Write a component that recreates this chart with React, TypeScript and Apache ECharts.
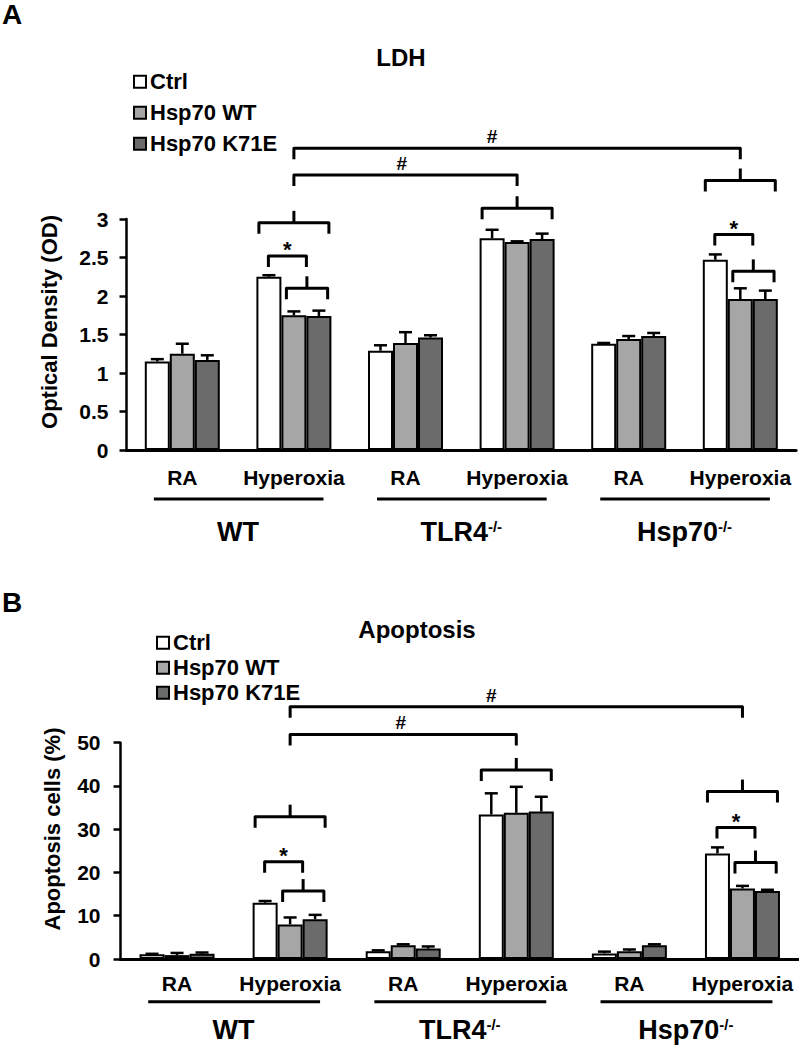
import React, { useEffect, useRef } from "react";
import * as echarts from "echarts";

// ---------- data ----------
const conditions = ["RA", "Hyperoxia"];
const genotypes = ["WT", "TLR4", "Hsp70"];
const genotypeSup = ["", "-/-", "-/-"];
const seriesNames = ["Ctrl", "Hsp70 WT", "Hsp70 K71E"];
const categories = genotypes.flatMap((g) => conditions.map((c) => `${g}|${c}`));

// Panel A: LDH (optical density), order: WT RA, WT Hyp, TLR4 RA, TLR4 Hyp, Hsp70 RA, Hsp70 Hyp
const ldhCtrl = [1.15, 2.25, 1.29, 2.75, 1.38, 2.47];
const ldhHspWT = [1.25, 1.75, 1.39, 2.7, 1.44, 1.96];
const ldhK71E = [1.17, 1.74, 1.46, 2.74, 1.48, 1.96];
const ldhCtrlErr = [0.03, 0.02, 0.07, 0.11, 0.01, 0.07];
const ldhHspWTErr = [0.13, 0.05, 0.14, 0.01, 0.04, 0.14];
const ldhK71EErr = [0.06, 0.07, 0.03, 0.07, 0.04, 0.11];
const ldhTicks = { min: 0, max: 3, interval: 0.5 };

// Panel B: apoptosis (%)
const apoCtrl = [1.1, 13.0, 1.8, 33.4, 1.3, 24.4];
const apoHspWT = [0.9, 8.0, 3.2, 33.8, 1.8, 16.3];
const apoK71E = [1.2, 9.2, 2.4, 34.1, 3.2, 15.7];
const apoCtrlErr = [0.1, 0.4, 0.2, 4.9, 0.4, 1.4];
const apoHspWTErr = [0.5, 1.6, 0.2, 6.0, 0.4, 0.6];
const apoK71EErr = [0.3, 1.0, 0.5, 3.4, 0.2, 0.3];
const apoTicks = { min: 0, max: 50, interval: 10 };

// significance brackets: category index c, offset o in bar widths, y in data units
const ldhBrackets = [
  { kind: "bar", c1: 1, o1: 0, c2: 5, o2: 0, y: 3.92, label: "#", lc: 3, lo: -1 },
  { kind: "bar", c1: 1, o1: 0, c2: 3, o2: 0, y: 3.57, label: "#", lc: 2, lo: -0.15 },
  { kind: "brace", c1: 1, o1: -1.4, c2: 1, o2: 1.4, tip: 0, y: 2.95 },
  { kind: "bar", c1: 1, o1: -1.02, c2: 1, o2: 0.5, y: 2.52, label: "*", lc: 1, lo: -0.26 },
  { kind: "brace", c1: 1, o1: -0.3, c2: 1, o2: 1.35, tip: 0.52, y: 2.1 },
  { kind: "brace", c1: 3, o1: -1.4, c2: 3, o2: 1.4, tip: 0, y: 3.14 },
  { kind: "brace", c1: 5, o1: -1.4, c2: 5, o2: 1.4, tip: 0, y: 3.5 },
  { kind: "bar", c1: 5, o1: -1.02, c2: 5, o2: 0.5, y: 2.8, label: "*", lc: 5, lo: -0.26 },
  { kind: "brace", c1: 5, o1: -0.3, c2: 5, o2: 1.35, tip: 0.52, y: 2.32 },
];
const apoBrackets = [
  { kind: "bar", c1: 1, o1: 0, c2: 5, o2: 0, y: 58.3, label: "#", lc: 3, lo: -1 },
  { kind: "bar", c1: 1, o1: 0, c2: 3, o2: 0, y: 51.9, label: "#", lc: 2, lo: -0.1 },
  { kind: "brace", c1: 1, o1: -1.4, c2: 1, o2: 1.4, tip: 0, y: 32.9 },
  { kind: "bar", c1: 1, o1: -1.02, c2: 1, o2: 0.5, y: 22.5, label: "*", lc: 1, lo: -0.26 },
  { kind: "brace", c1: 1, o1: -0.3, c2: 1, o2: 1.35, tip: 0.52, y: 15.7 },
  { kind: "brace", c1: 3, o1: -1.4, c2: 3, o2: 1.4, tip: 0, y: 43.7 },
  { kind: "brace", c1: 5, o1: -1.4, c2: 5, o2: 1.4, tip: 0, y: 38.7 },
  { kind: "bar", c1: 5, o1: -1.02, c2: 5, o2: 0.5, y: 30.4, label: "*", lc: 5, lo: -0.26 },
  { kind: "brace", c1: 5, o1: -0.3, c2: 5, o2: 1.35, tip: 0.52, y: 22.3 },
];

// ---------- styling / layout ----------
const FONT = '"Liberation Sans", Arial, Helvetica, sans-serif';
const barColors = ["#ffffff", "#a6a6a6", "#6b6b6b"];
const DROP = 11;
const TIP = 12;

const panels = [
  {
    letter: "A", letterY: 14.5,
    title: "LDH", titleX: 401, titleY: 57,
    yName: "Optical Density (OD)", yNameX: 49, yNameY: 322,
    grid: { left: 126.5, top: 219, width: 669.6, height: 231 },
    ticks: ldhTicks,
    values: [ldhCtrl, ldhHspWT, ldhK71E],
    errors: [ldhCtrlErr, ldhHspWTErr, ldhK71EErr],
    brackets: ldhBrackets,
    yLabelMargin: 18, xLabelMargin: 17,
    underlineOff: 49, genoOff: 82,
    legend: { left: 133, top: 70.7, itemGap: 9 },
  },
  {
    letter: "B", letterY: 602,
    title: "Apoptosis", titleX: 417, titleY: 629,
    yName: "Apoptosis cells (%)", yNameX: 52, yNameY: 829,
    grid: { left: 120.5, top: 742.7, width: 678.5, height: 216.3 },
    ticks: apoTicks,
    values: [apoCtrl, apoHspWT, apoK71E],
    errors: [apoCtrlErr, apoHspWTErr, apoK71EErr],
    brackets: apoBrackets,
    yLabelMargin: 20, xLabelMargin: 13.5,
    underlineOff: 42.7, genoOff: 71,
    legend: { left: 156, top: 631.7, itemGap: 3 },
  },
];
const BAR_PX = 25;

export default function App() {
  const ref = useRef<HTMLDivElement>(null);

  useEffect(() => {
    if (!ref.current) return;
    const chart = echarts.init(ref.current, null, { renderer: "svg" });

    const series: any[] = [];
    panels.forEach((p, pi) => {
      const bandPx = p.grid.width / categories.length;
      const barFrac = BAR_PX / bandPx;
      seriesNames.forEach((name, si) => {
        series.push({
          type: "bar",
          name,
          xAxisIndex: pi,
          yAxisIndex: pi,
          data: p.values[si],
          barWidth: `${barFrac * 100}%`,
          barGap: "0%",
          itemStyle: { color: barColors[si], borderColor: "#000", borderWidth: 2 },
          emphasis: { disabled: true },
          silent: true,
          z: 2,
        });
      });
      // error bars
      const errData: number[][] = [];
      seriesNames.forEach((_, si) => {
        p.values[si].forEach((v, ci) => {
          errData.push([ci, v + p.errors[si][ci], si, v]);
        });
      });
      series.push({
        type: "custom",
        xAxisIndex: pi,
        yAxisIndex: pi,
        silent: true,
        clip: false,
        z: 3,
        encode: { x: 0, y: 1 },
        data: errData,
        renderItem: (params: any, api: any) => {
          const c = api.value(0);
          const top = api.value(1);
          const s = api.value(2);
          const v = api.value(3);
          const bw = api.size([1, 0])[0];
          const pt = api.coord([c, top]);
          const pb = api.coord([c, v]);
          const x = pt[0] + (s - 1) * bw * barFrac;
          const st = { stroke: "#000", lineWidth: 2.5 };
          return {
            type: "group",
            children: [
              { type: "line", shape: { x1: x, y1: pb[1], x2: x, y2: pt[1] }, style: st },
              { type: "line", shape: { x1: x - 6.5, y1: pt[1], x2: x + 6.5, y2: pt[1] }, style: st },
            ],
          };
        },
      });
      // brackets
      series.push({
        type: "custom",
        xAxisIndex: pi,
        yAxisIndex: pi,
        silent: true,
        clip: false,
        z: 4,
        data: p.brackets.map((b) => [b.c1, b.y]),
        renderItem: (params: any, api: any) => {
          const b: any = p.brackets[params.dataIndex];
          const bw = api.size([1, 0])[0];
          const barPx = bw * barFrac;
          const X = (c: number, o: number) => api.coord([c, 0])[0] + o * barPx;
          const y = api.coord([0, b.y])[1];
          const x1 = X(b.c1, b.o1);
          const x2 = X(b.c2, b.o2);
          const st = { stroke: "#000", lineWidth: 3, fill: "none", lineJoin: "round", lineCap: "butt" };
          const children: any[] = [
            {
              type: "polyline",
              shape: { points: [[x1, y + DROP], [x1, y], [x2, y], [x2, y + DROP]] },
              style: st,
            },
          ];
          if (b.kind === "brace") {
            const xt = X(b.c1, b.tip);
            children.push({ type: "line", shape: { x1: xt, y1: y, x2: xt, y2: y - TIP }, style: st });
          }
          if (b.label) {
            const isHash = b.label === "#";
            children.push({
              type: "text",
              style: {
                text: `{t|${b.label}}`,
                x: X(b.lc, b.lo),
                y: y - (isHash ? 11.5 : 6),
                align: "center",
                verticalAlign: "middle",
                rich: {
                  t: {
                    fontSize: isHash ? 19 : 22,
                    fontWeight: "bold",
                    fontFamily: FONT,
                    fill: "#000",
                  },
                },
              },
            });
          }
          return { type: "group", children };
        },
      });
      // genotype labels and underlines
      series.push({
        type: "custom",
        xAxisIndex: pi,
        yAxisIndex: pi,
        silent: true,
        clip: false,
        z: 4,
        data: genotypes.map((_, gi) => [gi * conditions.length, 0]),
        renderItem: (params: any, api: any) => {
          const gi = params.dataIndex;
          const bw = api.size([1, 0])[0];
          const base = api.coord([gi * conditions.length, 0]);
          const xc = base[0] + 0.5 * bw;
          const y0 = base[1];
          const sup = genotypeSup[gi];
          const text = sup ? `{m|${genotypes[gi]}}{s|${sup}}` : `{m|${genotypes[gi]}}`;
          return {
            type: "group",
            children: [
              {
                type: "rect",
                shape: { x: xc - 0.755 * bw, y: y0 + p.underlineOff - 1.5, width: 1.52 * bw, height: 3 },
                style: { fill: "#000" },
              },
              {
                type: "text",
                style: {
                  text,
                  x: xc,
                  y: y0 + p.genoOff,
                  align: "center",
                  verticalAlign: "middle",
                  rich: {
                    m: { fontSize: 27, fontWeight: "bold", fontFamily: FONT, fill: "#000", verticalAlign: "middle" },
                    s: { fontSize: 15, fontWeight: "bold", fontFamily: FONT, fill: "#000", verticalAlign: "top" },
                  },
                },
              },
            ],
          };
        },
      });
    });

    const graphic: any[] = [];
    panels.forEach((p) => {
      graphic.push({
        type: "text",
        x: 2,
        y: p.letterY,
        style: {
          text: p.letter, fill: "#000",
          font: `bold 28px ${FONT}`,
          align: "left", textAlign: "left",
          verticalAlign: "middle", textVerticalAlign: "middle",
        },
      });
      graphic.push({
        type: "text",
        x: p.titleX,
        y: p.titleY,
        style: {
          text: p.title, fill: "#000",
          font: `bold 24px ${FONT}`,
          align: "center", textAlign: "center",
          verticalAlign: "middle", textVerticalAlign: "middle",
        },
      });
      graphic.push({
        type: "text",
        x: p.yNameX,
        y: p.yNameY,
        rotation: Math.PI / 2,
        style: {
          text: p.yName, fill: "#000",
          font: `bold 22px ${FONT}`,
          align: "center", textAlign: "center",
          verticalAlign: "middle", textVerticalAlign: "middle",
        },
      });
    });

    const option: any = {
      animation: false,
      backgroundColor: "#ffffff",
      tooltip: { show: false },
      grid: panels.map((p) => ({ ...p.grid, containLabel: false, outerBoundsMode: "none" })),
      xAxis: panels.map((p, pi) => ({
        type: "category",
        gridIndex: pi,
        data: categories,
        axisLine: { show: true, lineStyle: { color: "#000", width: 3 } },
        axisTick: { show: false },
        splitLine: { show: false },
        axisLabel: {
          interval: 0,
          formatter: (v: string) => v.split("|")[1],
          color: "#000",
          fontSize: 21,
          fontWeight: "bold",
          fontFamily: FONT,
          margin: p.xLabelMargin,
        },
      })),
      yAxis: panels.map((p, pi) => ({
        type: "value",
        gridIndex: pi,
        min: p.ticks.min,
        max: p.ticks.max,
        interval: p.ticks.interval,
        axisLine: { show: true, lineStyle: { color: "#000", width: 2.5 } },
        axisTick: { show: true, inside: false, length: 7, lineStyle: { color: "#000", width: 2.5 } },
        splitLine: { show: false },
        axisLabel: {
          color: "#000",
          fontSize: 21,
          fontWeight: "bold",
          fontFamily: FONT,
          margin: p.yLabelMargin,
        },
      })),
      legend: panels.map((p) => ({
        orient: "vertical",
        left: p.legend.left,
        top: p.legend.top,
        padding: 0,
        itemGap: p.legend.itemGap,
        itemWidth: 12,
        itemHeight: 12,
        icon: "rect",
        selectedMode: false,
        data: seriesNames,
        itemStyle: { borderColor: "#000", borderWidth: 2 },
        textStyle: {
          color: "#000",
          fontSize: 22,
          fontWeight: "bold",
          fontFamily: FONT,
          lineHeight: 22,
          padding: [0, 0, 0, -1],
        },
      })),
      series,
      graphic,
    };

    chart.setOption(option);
    return () => chart.dispose();
  }, []);

  return (
    <div
      ref={ref}
      style={{ position: "absolute", left: 0, top: 0, width: 799, height: 1050, background: "#fff" }}
    />
  );
}
